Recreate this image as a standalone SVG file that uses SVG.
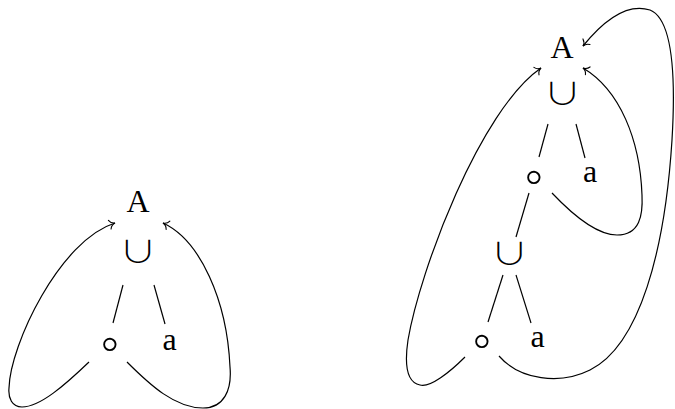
<svg xmlns="http://www.w3.org/2000/svg" width="675" height="409" viewBox="0 0 675 409">
<style>
.lbl{font-family:"Liberation Serif","DejaVu Serif",serif;font-size:32px;text-anchor:middle;fill:#000}
.u{font-family:"Noto Sans CJK JP",sans-serif;font-weight:300;font-size:30px;text-anchor:middle;fill:#000}
.c{font-family:"Noto Sans","Noto Sans CJK JP","DejaVu Sans",sans-serif;font-weight:300;font-size:50px;text-anchor:middle;fill:#000}
.e{stroke:#000;stroke-width:1.2;fill:none}
.arr{stroke:#000;stroke-width:1.2;fill:none;marker-end:url(#to)}
</style>
<defs>
<marker id="to" markerUnits="userSpaceOnUse" viewBox="-8 -6 10 12" refX="0" refY="0" markerWidth="10" markerHeight="12" orient="auto">
<path d="M-5.5,-4.5 C-4.5,-2 -2,-0.4 0,0 C-2,0.4 -4.5,2 -5.5,4.5" fill="none" stroke="#000" stroke-width="1.1" stroke-linecap="round"/>
</marker>
</defs>
<g id="left-A"><text class="lbl" x="138" y="212">A</text></g>
<g id="left-union"><text class="u" transform="translate(138,262) scale(1.25,1)">∪</text></g>
<g id="left-circ"><text class="c" x="110" y="360">∘</text></g>
<g id="left-a"><text class="lbl" x="169.5" y="350">a</text></g>
<g id="right-A"><text class="lbl" x="562" y="58">A</text></g>
<g id="right-union1"><text class="u" transform="translate(562.5,104) scale(1.25,1)">∪</text></g>
<g id="right-circ1"><text class="c" x="534" y="192.5">∘</text></g>
<g id="right-a1"><text class="lbl" x="590" y="182">a</text></g>
<g id="right-union2"><text class="u" transform="translate(509.5,264) scale(1.25,1)">∪</text></g>
<g id="right-circ2"><text class="c" x="482" y="356.5">∘</text></g>
<g id="right-a2"><text class="lbl" x="537.5" y="347">a</text></g>
<g id="connectors">
<path class="e" d="M123,285 L113,323"/>
<path class="e" d="M154,285 L165,324"/>
<path class="arr" d="M89,362 C65,385 40,407 22,407 C12,407 8,398 9,388 C10,345 60,240 115,223"/>
<path class="arr" d="M127,362 C150,385 175,408 203,408 C224,408 232,390 230,367 C227,300 200,240 163,223"/>
<path class="e" d="M548,124 L539,157"/>
<path class="e" d="M576,124 L585,158"/>
<path class="e" d="M529,193 L516,237"/>
<path class="e" d="M503,275 L488,322"/>
<path class="e" d="M516,275 L531,323"/>
<path class="arr" d="M552,193 C570,212 595,235 617,235 C640,235 643,215 642,195 C640,140 620,90 583,68"/>
<path class="arr" d="M465,357 C450,372 430,388 420,385 C405,382 405,360 408,340 C420,270 480,110 541,68"/>
<path class="arr" d="M499,356 C520,380 560,385 590,370 C640,345 665,250 672,140 C675,90 675,20 650,10 C625,2 600,25 583,46"/>
</g>
</svg>
